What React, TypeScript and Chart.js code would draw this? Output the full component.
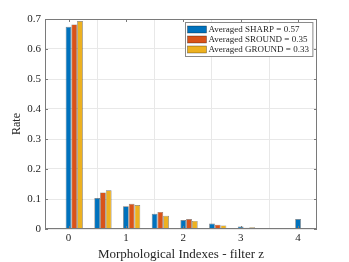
import React, { useEffect, useRef } from "react";
import { Chart, registerables } from "chart.js";

Chart.register(...registerables);

// ---- data ----
const categories = [0, 0.5, 1, 1.5, 2, 2.5, 3, 3.5, 4];
const sharpValues = [0.674, 0.103, 0.0755, 0.051, 0.03, 0.018, 0.008, 0.003, 0.033];
const sroundValues = [0.682, 0.122, 0.084, 0.057, 0.033, 0.0145, 0.004, 0.001, 0.0005];
const groundValues = [0.693, 0.129, 0.08, 0.044, 0.027, 0.012, 0.006, 0.002, 0.002];
const seriesLabels = [
  "Averaged SHARP = 0.57",
  "Averaged SROUND = 0.35",
  "Averaged GROUND = 0.33",
];
const xTickValues = [0, 1, 2, 3, 4];
const yTickValues = [0, 0.1, 0.2, 0.3, 0.4, 0.5, 0.6, 0.7];
const xTitle = "Morphological Indexes - filter z";
const yTitle = "Rate";

// ---- style ----
const seriesColors = ["#0072BD", "#D95319", "#EDB120"];
const FONT = "'Liberation Serif', 'Times New Roman', serif";
const TEXT = "#262626";
const FRAME = "#7a7a7a";
const GRID = "#e8e8e8";
const GROUP_SHIFT = 0.1; // group centre sits one bar-width right of category

const framePlugin = {
  id: "frameAndLegend",
  afterDatasetsDraw(chart: any) {
    const { ctx, chartArea } = chart;
    const { left, right, top, bottom } = chartArea;
    const xs = chart.scales.x;
    const ys = chart.scales.y;
    ctx.save();
    ctx.strokeStyle = FRAME;
    ctx.lineWidth = 1;
    ctx.strokeRect(Math.round(left) + 0.5, Math.round(top) + 0.5, Math.round(right - left) - 1, Math.round(bottom - top) - 1);
    const tl = 3;
    ctx.beginPath();
    xTickValues.forEach((v) => {
      const px = Math.round(xs.getPixelForValue(v)) + 0.5;
      ctx.moveTo(px, bottom);
      ctx.lineTo(px, bottom - tl);
      ctx.moveTo(px, top);
      ctx.lineTo(px, top + tl);
    });
    yTickValues.forEach((v) => {
      const py = Math.round(ys.getPixelForValue(v)) + 0.5;
      ctx.moveTo(left, py);
      ctx.lineTo(left + tl, py);
      ctx.moveTo(right, py);
      ctx.lineTo(right - tl, py);
    });
    ctx.stroke();

    // legend
    ctx.font = `9px ${FONT}`;
    const swW = 19;
    const swH = 7;
    const rowH = 10;
    const textW = Math.max(...seriesLabels.map((s) => ctx.measureText(s).width));
    const boxW = 2 + swW + 2 + textW + 4;
    const boxH = seriesLabels.length * rowH + 4;
    const bx = Math.round(right - 5 - boxW) + 0.5;
    const by = Math.round(top + 3) + 0.5;
    ctx.fillStyle = "#ffffff";
    ctx.fillRect(bx, by, boxW, boxH);
    ctx.strokeStyle = "#8a8a8a";
    ctx.strokeRect(bx, by, boxW, boxH);
    seriesLabels.forEach((lab, i) => {
      const cy = by + 2 + rowH * i + rowH / 2;
      ctx.fillStyle = seriesColors[i];
      ctx.fillRect(bx + 2, cy - swH / 2, swW, swH);
      ctx.strokeStyle = "rgba(0,0,0,0.5)";
      ctx.lineWidth = 0.6;
      ctx.strokeRect(bx + 2, cy - swH / 2, swW, swH);
      ctx.fillStyle = TEXT;
      ctx.textBaseline = "middle";
      ctx.textAlign = "left";
      ctx.fillText(lab, bx + 2 + swW + 2, cy + 0.5);
    });
    ctx.restore();
  },
};

export default function App() {
  const ref = useRef<HTMLCanvasElement | null>(null);
  useEffect(() => {
    document.body.style.margin = "0";
    const canvas = ref.current!;
    const allSeries = [sharpValues, sroundValues, groundValues];
    const chart = new Chart(canvas, {
      type: "bar",
      data: {
        datasets: allSeries.map((vals, i) => ({
          label: seriesLabels[i],
          data: categories.map((c, j) => ({ x: c + GROUP_SHIFT, y: vals[j] })),
          backgroundColor: seriesColors[i],
          borderColor: "rgba(0,0,0,0.55)",
          borderWidth: 0.7,
          categoryPercentage: 0.6,
          barPercentage: 1,
        })),
      },
      options: {
        animation: false,
        responsive: false,
        devicePixelRatio: 1,
        layout: { padding: { top: 19, right: 32, left: 0, bottom: 0 } },
        plugins: { legend: { display: false }, tooltip: { enabled: false } },
        scales: {
          x: {
            type: "linear",
            min: -0.41,
            max: 4.33,
            offset: false,
            afterBuildTicks: (s: any) => {
              s.ticks = xTickValues.map((v) => ({ value: v }));
            },
            afterFit: (s: any) => {
              s.height = 33;
            },
            grid: { color: GRID, drawTicks: false },
            border: { display: false },
            ticks: {
              color: TEXT,
              font: { family: FONT, size: 11 },
              padding: 3,
              maxRotation: 0,
              autoSkip: false,
              callback: (v: any) => String(v),
            },
            title: {
              display: true,
              text: xTitle,
              color: TEXT,
              font: { family: FONT, size: 13 },
              padding: { top: 5, bottom: 0 },
            },
          },
          y: {
            type: "linear",
            min: 0,
            max: 0.7,
            afterBuildTicks: (s: any) => {
              s.ticks = yTickValues.map((v) => ({ value: v }));
            },
            afterFit: (s: any) => {
              s.width = 45;
            },
            grid: { color: GRID, drawTicks: false },
            border: { display: false },
            ticks: {
              color: TEXT,
              font: { family: FONT, size: 11 },
              padding: 4,
              callback: (v: any) => String(Math.round(v * 10) / 10),
            },
            title: {
              display: true,
              text: yTitle,
              color: TEXT,
              font: { family: FONT, size: 12 },
              padding: { top: 10, bottom: 0 },
            },
          },
        },
      },
      plugins: [framePlugin],
    } as any);
    return () => chart.destroy();
  }, []);
  return (
    <div style={{ width: 349, height: 262 }}>
      <canvas ref={ref} width={349} height={262} style={{ display: "block" }} />
    </div>
  );
}
